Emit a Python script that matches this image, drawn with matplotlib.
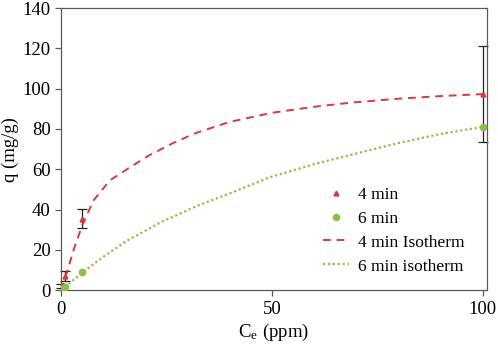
import matplotlib
matplotlib.use("Agg")
import matplotlib.pyplot as plt

plt.rcParams['font.family'] = ['Liberation Serif', 'DejaVu Serif']
plt.rcParams['mathtext.fontset'] = 'stix'

# measured points
ce_4 = [0.1, 1, 5, 100]
q_4 = [2, 7, 35.5, 97.5]
err_4 = [1, 2.5, 4.7, 23.8]

ce_6 = [0.1, 1, 5, 100]
q_6 = [0.5, 1.7, 8.8, 81]

# isotherm curves
iso4_ce = [0, 1, 3, 5, 7.7, 11.6, 16.4, 21, 26.6, 32, 40, 50, 60, 68.5, 80, 90, 100]
iso4_q = [0, 6, 20, 32, 44.5, 54.5, 61, 67, 73, 78, 83.5, 88, 91, 93, 95, 96.3, 97.3]

iso6_ce = [0, 1, 5, 10, 15.6, 23.5, 32.5, 40, 49.5, 60, 68.5, 80, 90, 100]
iso6_q = [0, 1.7, 8.6, 16.5, 24.5, 33.5, 42, 48, 56, 62.5, 67, 73, 77.5, 81]

red = '#d7393f'
green = '#8cc043'

fig = plt.figure(figsize=(4.98, 3.5), dpi=100)
ax = fig.add_axes([0.1225, 0.171, 0.855, 0.806])

eb = ax.errorbar(ce_4, q_4, yerr=err_4, fmt='none', ecolor='#222222', elinewidth=0.9,
                 capsize=3.5, capthick=0.9, zorder=2)
for art in eb.lines[1] + eb.lines[2]:
    art.set_clip_on(False)
ax.plot(ce_4, q_4, '^', color=red, markersize=3.5, linestyle='none', label='4 min', zorder=3)
ax.plot(ce_6, q_6, 'o', color=green, markersize=4.5, linestyle='none', label='6 min', zorder=3)
ax.plot(iso4_ce, iso4_q, color=red, linestyle=(0, (4, 3)), linewidth=1.4, label='4 min Isotherm')
ax.plot(iso6_ce, iso6_q, color=green, linestyle=(0, (1, 1.2)), linewidth=1.6, label='6 min isotherm')

ax.set_xlim(0, 101)
ax.set_ylim(0, 140)
ax.set_xticks([0, 50, 100])
ax.set_yticks(range(0, 141, 20))
ax.set_xlabel('C$_\\mathregular{e}$ (ppm)', fontsize=13.5, labelpad=3)
ax.set_ylabel('q (mg/g)', fontsize=13.5)
ax.yaxis.set_label_coords(-0.098, 0.5)
ax.tick_params(labelsize=13.5, direction='out', length=4, color='#595959', width=0.9)
for s in ax.spines.values():
    s.set_color('#595959')
    s.set_linewidth(0.9)

ax.legend(loc='lower left', bbox_to_anchor=(0.578, 0.0), frameon=False, fontsize=12.5,
          handlelength=1.5, handletextpad=0.55, labelspacing=0.45)

fig.savefig('out.png', dpi=100)
